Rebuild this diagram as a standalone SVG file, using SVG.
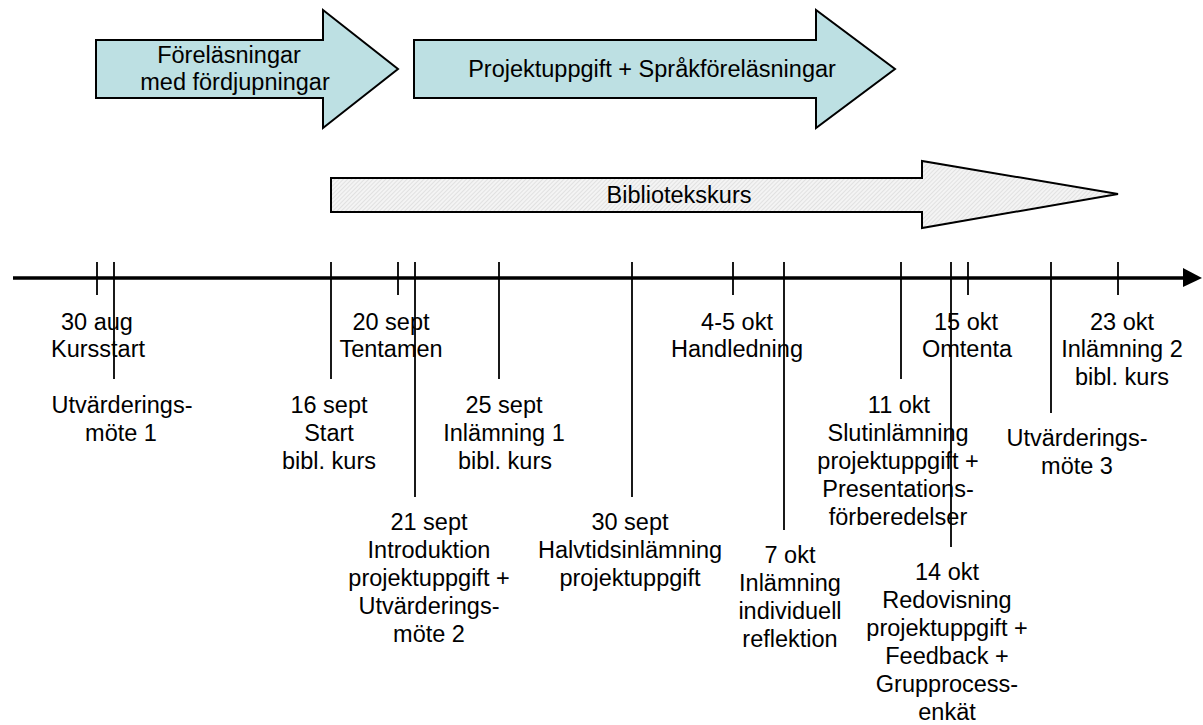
<svg xmlns="http://www.w3.org/2000/svg" width="1203" height="725" viewBox="0 0 1203 725">
<style>
  text { font-family: "Liberation Sans", Arial, sans-serif; font-size: 23.5px; fill: #000; text-anchor: middle; }
  .blue { fill: #bde0e3; stroke: #000; stroke-width: 2; stroke-linejoin: miter; }
  .hatch { fill: url(#hatch); stroke: #000; stroke-width: 2; }
  .tick { stroke: #000; stroke-width: 1.8; }
  .axis { stroke: #000; stroke-width: 3.5; }
</style>
<defs>
  <pattern id="hatch" patternUnits="userSpaceOnUse" width="3" height="3" patternTransform="rotate(45)">
    <rect width="3" height="3" fill="#f4f4f4"/>
    <line x1="0" y1="0" x2="0" y2="3" stroke="#cfcfcf" stroke-width="1"/>
  </pattern>
</defs>
<rect width="1203" height="725" fill="#fff"/>

<g id="arrow-forelasningar">
  <polygon class="blue" points="96,40 323,40 323,10 398,69 323,128 323,98 96,98"/>
  <text x="229" y="63">Föreläsningar</text>
  <text x="235" y="90">med fördjupningar</text>
</g>
<g id="arrow-projektuppgift">
  <polygon class="blue" points="414,40 816,40 816,10 895,69 816,128 816,98 414,98"/>
  <text x="652" y="77">Projektuppgift + Språkföreläsningar</text>
</g>
<g id="arrow-bibliotekskurs">
  <polygon class="hatch" points="331,178 922,178 922,161 1118,194 922,228 922,212 331,212"/>
  <text x="679" y="203">Bibliotekskurs</text>
</g>

<g id="connectors">
  <line class="axis" x1="13" y1="278" x2="1186" y2="278"/>
  <polygon points="1183,268 1202,278 1183,287" fill="#000"/>
  <line class="tick" x1="97" y1="262" x2="97" y2="295"/>
  <line class="tick" x1="114" y1="262" x2="114" y2="379"/>
  <line class="tick" x1="331" y1="262" x2="331" y2="379"/>
  <line class="tick" x1="398" y1="262" x2="398" y2="295"/>
  <line class="tick" x1="415" y1="262" x2="415" y2="497"/>
  <line class="tick" x1="499" y1="262" x2="499" y2="379"/>
  <line class="tick" x1="632" y1="262" x2="632" y2="497"/>
  <line class="tick" x1="733" y1="262" x2="733" y2="295"/>
  <line class="tick" x1="784" y1="262" x2="784" y2="530"/>
  <line class="tick" x1="901" y1="262" x2="901" y2="379"/>
  <line class="tick" x1="951" y1="262" x2="951" y2="547"/>
  <line class="tick" x1="968" y1="262" x2="968" y2="295"/>
  <line class="tick" x1="1051" y1="262" x2="1051" y2="413"/>
  <line class="tick" x1="1118" y1="262" x2="1118" y2="295"/>
</g>

<g id="ev-30aug">
  <text x="97" y="330">30 aug</text>
  <text x="98" y="357">Kursstart</text>
</g>
<g id="ev-utv1">
  <text x="122" y="413">Utvärderings-</text>
  <text x="121" y="441">möte 1</text>
</g>
<g id="ev-16sept">
  <text x="329" y="413">16 sept</text>
  <text x="329" y="441">Start</text>
  <text x="329" y="469">bibl. kurs</text>
</g>
<g id="ev-20sept">
  <text x="391" y="330">20 sept</text>
  <text x="391" y="357">Tentamen</text>
</g>
<g id="ev-21sept">
  <text x="429" y="530">21 sept</text>
  <text x="429" y="558">Introduktion</text>
  <text x="429" y="586">projektuppgift +</text>
  <text x="429" y="614">Utvärderings-</text>
  <text x="429" y="642">möte 2</text>
</g>
<g id="ev-25sept">
  <text x="504" y="413">25 sept</text>
  <text x="504" y="441">Inlämning 1</text>
  <text x="505" y="469">bibl. kurs</text>
</g>
<g id="ev-30sept">
  <text x="630" y="530">30 sept</text>
  <text x="630" y="558">Halvtidsinlämning</text>
  <text x="630" y="586">projektuppgift</text>
</g>
<g id="ev-4-5okt">
  <text x="737" y="330">4-5 okt</text>
  <text x="737" y="357">Handledning</text>
</g>
<g id="ev-7okt">
  <text x="790" y="563">7 okt</text>
  <text x="790" y="591">Inlämning</text>
  <text x="790" y="619">individuell</text>
  <text x="790" y="647">reflektion</text>
</g>
<g id="ev-11okt">
  <text x="899" y="413">11 okt</text>
  <text x="898" y="441">Slutinlämning</text>
  <text x="898" y="469">projektuppgift +</text>
  <text x="898" y="497">Presentations-</text>
  <text x="898" y="525">förberedelser</text>
</g>
<g id="ev-14okt">
  <text x="947" y="580">14 okt</text>
  <text x="947" y="608">Redovisning</text>
  <text x="947" y="636">projektuppgift +</text>
  <text x="947" y="664">Feedback +</text>
  <text x="947" y="692">Grupprocess-</text>
  <text x="947" y="720">enkät</text>
</g>
<g id="ev-15okt">
  <text x="966" y="330">15 okt</text>
  <text x="967" y="357">Omtenta</text>
</g>
<g id="ev-utv3">
  <text x="1077" y="446">Utvärderings-</text>
  <text x="1077" y="474">möte 3</text>
</g>
<g id="ev-23okt">
  <text x="1122" y="330">23 okt</text>
  <text x="1122" y="357">Inlämning 2</text>
  <text x="1122" y="385">bibl. kurs</text>
</g>
</svg>
